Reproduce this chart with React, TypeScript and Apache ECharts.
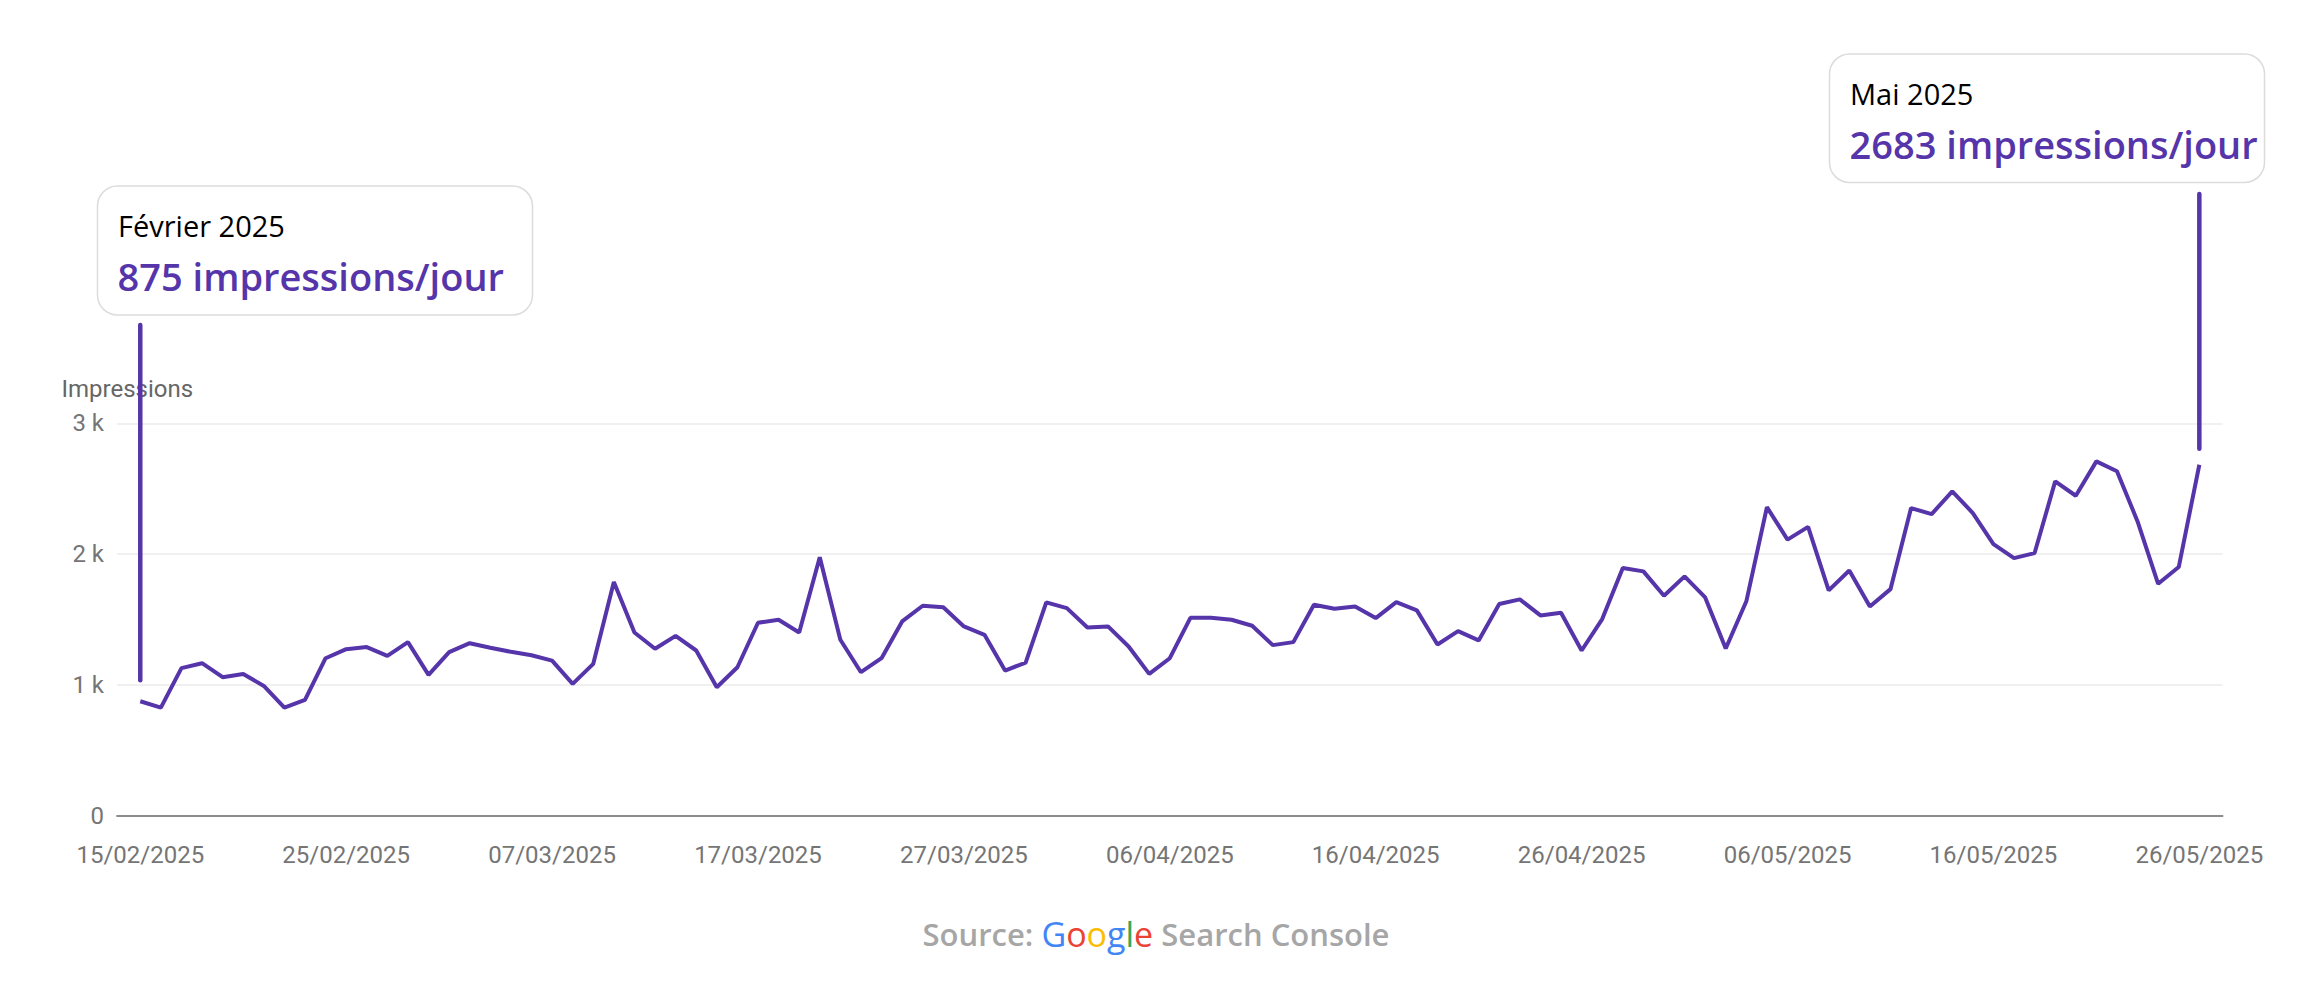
import React, { useEffect, useRef } from "react";
import * as echarts from "echarts";

// daily impressions, 15/02/2025 -> 26/05/2025 (101 days)
const impressions = [
  875, 826, 1128, 1166, 1059, 1084, 992, 826, 885, 1204,
  1273, 1289, 1222, 1327, 1077, 1250, 1319, 1284, 1253, 1227,
  1186, 1008, 1161, 1787, 1401, 1276, 1375, 1263, 982, 1135,
  1475, 1498, 1401, 1976, 1345, 1097, 1204, 1485, 1605, 1593,
  1447, 1383, 1110, 1171, 1631, 1587, 1439, 1447, 1294, 1084,
  1204, 1513, 1513, 1498, 1452, 1304, 1327, 1613, 1582, 1600,
  1511, 1633, 1570, 1309, 1411, 1340, 1618, 1654, 1531, 1552,
  1263, 1503, 1894, 1868, 1682, 1830, 1669, 1278, 1639, 2359,
  2111, 2208, 1723, 1875, 1600, 1732, 2352, 2306, 2480, 2314,
  2077, 1969, 2008, 2556, 2446, 2709, 2633, 2250, 1773, 1901,
  2683,
];

const tickDays = [0, 10, 20, 30, 40, 50, 60, 70, 80, 90, 100];
const tickLabels = [
  "15/02/2025", "25/02/2025", "07/03/2025", "17/03/2025", "27/03/2025",
  "06/04/2025", "16/04/2025", "26/04/2025", "06/05/2025", "16/05/2025",
  "26/05/2025",
];

const yTicks = [0, 1000, 2000, 3000];

const callouts = [
  { title: "Février 2025", value: "875 impressions/jour", day: 0 },
  { title: "Mai 2025", value: "2683 impressions/jour", day: 100 },
];

const PURPLE = "#5535a9";

export default function App() {
  const chartRef = useRef<HTMLDivElement>(null);

  useEffect(() => {
    if (!chartRef.current) return;
    const chart = echarts.init(chartRef.current, undefined, { renderer: "svg" });

    chart.setOption({
      animation: false,
      backgroundColor: "#ffffff",
      grid: { left: 117, right: 89.4, top: 423.3, bottom: 172.3, containLabel: false, outerBoundsMode: "none" },
      xAxis: {
        type: "value",
        min: -1.13,
        max: 101.13,
        splitLine: { show: false },
        axisTick: { show: false },
        axisLine: { show: true, lineStyle: { color: "#8c8c8c", width: 1.8 } },
        axisLabel: {
          customValues: tickDays,
          formatter: (v: number) => tickLabels[tickDays.indexOf(Math.round(v))] ?? "",
          color: "#757575",
          fontSize: 24,
          fontFamily: "Roboto",
          margin: 27,
        },
      },
      yAxis: {
        type: "value",
        min: yTicks[0],
        max: yTicks[yTicks.length - 1],
        interval: 1000,
        axisLine: { show: false },
        axisTick: { show: false },
        splitLine: { lineStyle: { color: "#ebebeb", width: 1.5 } },
        axisLabel: {
          formatter: (v: number) => (v === 0 ? "0" : `${v / 1000} k`),
          color: "#757575",
          fontSize: 24,
          fontFamily: "Roboto",
          margin: 13,
        },
      },
      series: [
        {
          name: "Impressions",
          type: "line",
          data: impressions.map((v, i) => [i, v]),
          showSymbol: false,
          clip: false,
          lineStyle: { color: PURPLE, width: 4 },
        },
      ],
    });

    // callout boxes + leader lines, anchored on the data points
    const p0 = chart.convertToPixel({ gridIndex: 0 }, [callouts[0].day, impressions[callouts[0].day]]);
    const p1 = chart.convertToPixel({ gridIndex: 0 }, [callouts[1].day, impressions[callouts[1].day]]);

    const boxes = [
      { x: 97.5, y: 186, w: 435, h: 129, lineTop: 325, pt: p0, gap: 21 },
      { x: 1829.5, y: 54, w: 435, h: 128.5, lineTop: 194, pt: p1, gap: 16 },
    ];

    const graphic: any[] = [
      {
        type: "text",
        left: 61.5,
        top: 377,
        z: 10,
        style: { text: "Impressions", fill: "#666666", fontSize: 24, fontFamily: "Roboto" },
      },
    ];

    boxes.forEach((b, i) => {
      graphic.push(
        {
          type: "rect",
          z: 20,
          shape: { x: b.x, y: b.y, width: b.w, height: b.h, r: 20 },
          style: { fill: "#ffffff", stroke: "#dcdcdc", lineWidth: 1.5 },
        },
        {
          type: "text",
          z: 21,
          x: b.x + 20.5,
          y: b.y + 39,
          style: {
            text: callouts[i].title,
            fill: "#000000",
            fontSize: 29,
            fontFamily: "Open Sans",
            align: "left",
            verticalAlign: "middle",
          },
        },
        {
          type: "text",
          z: 21,
          x: b.x + 20,
          y: b.y + 90,
          style: {
            text: callouts[i].value,
            fill: PURPLE,
            fontSize: 38,
            fontWeight: 600,
            fontFamily: "Open Sans",
            align: "left",
            verticalAlign: "middle",
          },
        },
        {
          type: "line",
          z: 30,
          shape: { x1: b.pt[0], y1: b.lineTop, x2: b.pt[0], y2: b.pt[1] - b.gap },
          style: { stroke: PURPLE, lineWidth: 4.5, lineCap: "round" },
        }
      );
    });

    graphic.push({
      type: "text",
      z: 10,
      x: 1156,
      y: 934,
      style: {
        text: "{s|Source: }{b|G}{r|o}{y|o}{b|g}{g|l}{r|e}{s| Search Console}",
        align: "center",
        verticalAlign: "middle",
        rich: {
          s: { fill: "#a6a6a6", fontSize: 31, fontWeight: 600, fontFamily: "Open Sans" },
          b: { fill: "#4285F4", fontSize: 34, fontWeight: 500, fontFamily: "Open Sans" },
          r: { fill: "#EA4335", fontSize: 34, fontWeight: 500, fontFamily: "Open Sans" },
          y: { fill: "#FBBC05", fontSize: 34, fontWeight: 500, fontFamily: "Open Sans" },
          g: { fill: "#34A853", fontSize: 34, fontWeight: 500, fontFamily: "Open Sans" },
        },
      },
    });

    chart.setOption({ graphic });

    const handleResize = () => chart.resize();
    window.addEventListener("resize", handleResize);

    return () => {
      window.removeEventListener("resize", handleResize);
      chart.dispose();
    };
  }, []);

  return (
    <div
      ref={chartRef}
      style={{ position: "fixed", left: 0, top: 0, width: 2312, height: 988, background: "#fff" }}
    ></div>
  );
}
